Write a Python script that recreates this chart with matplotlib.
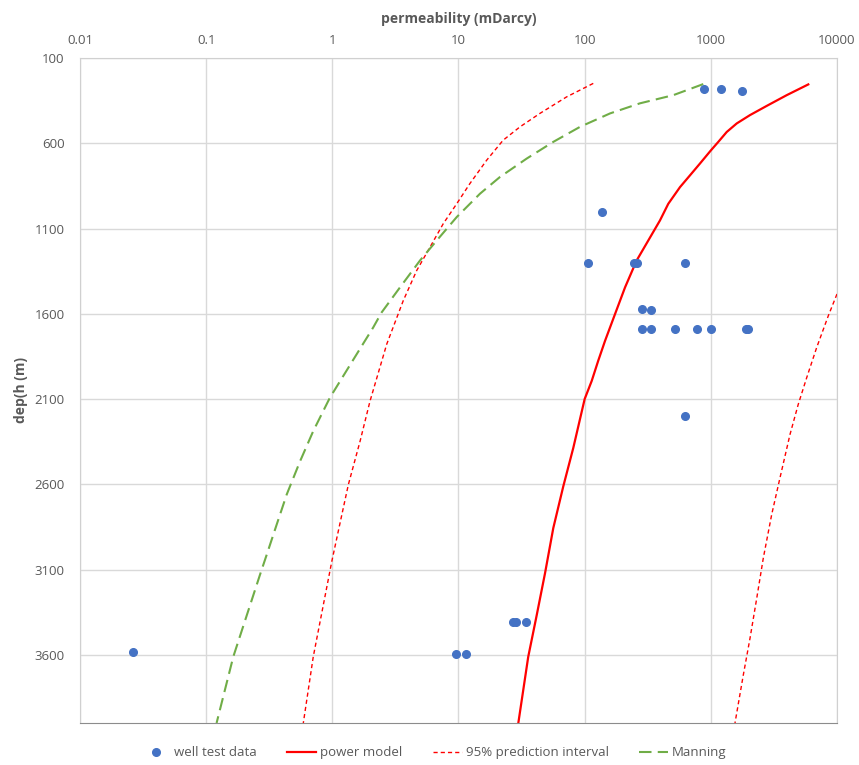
import matplotlib.pyplot as plt

# well test data
well_k = [883, 1203, 1766, 137, 106, 245, 260, 624, 286, 335,
          286, 335, 523, 777, 1003, 1900, 1960, 624,
          27.2, 28.4, 34.3, 0.0262, 9.55, 11.5]
well_depth = [282, 282, 294, 1004, 1304, 1304, 1304, 1304, 1572, 1580,
              1690, 1690, 1690, 1690, 1690, 1690, 1690, 2200,
              3406, 3406, 3406, 3586, 3596, 3596]

# power model
power_k = [5920, 3993, 2772, 2043, 1603, 1336, 1146, 1003, 820, 684, 570,
           460, 395, 258, 209, 174, 145, 128, 113.7, 100, 81.3, 67.7,
           56.4, 48.5, 41.7, 35.7, 29.8]
power_depth = [255, 318, 381, 435, 484, 534, 592, 641, 719, 788, 857,
               955, 1053, 1288, 1445, 1602, 1759, 1876, 1994, 2100,
               2386, 2612, 2857, 3122, 3367, 3612, 4000]

# 95% prediction interval, lower
pi_low_k = [117, 72.0, 44.2, 30.7, 22.6, 16.7, 12.3, 9.68, 7.57, 5.94, 4.66,
            3.65, 2.70, 1.99, 1.66, 1.34, 1.15, 0.99, 0.706, 0.589]
pi_low_depth = [249, 328, 425, 504, 582, 700, 837, 955, 1072, 1210, 1347,
                1523, 1778, 2112, 2347, 2602, 2829, 3053, 3612, 4000]

# 95% prediction interval, upper
pi_high_k = [10000, 8530, 6900, 5750, 4930, 4240, 3530, 3035, 2605, 2310,
             2043, 1808, 1554]
pi_high_depth = [1484, 1612, 1798, 1975, 2131, 2308, 2563, 2778, 3033, 3269,
                 3504, 3719, 4000]

# Manning
man_k = [871, 504, 274, 159, 91.8, 56.4, 34.7, 21.3, 14.8, 9.68, 6.71, 4.95,
         3.44, 2.46, 2.11, 1.56, 0.957, 0.706, 0.555, 0.435, 0.362, 0.302,
         0.267, 0.164, 0.121]
man_depth = [253, 318, 366, 425, 504, 592, 690, 798, 896, 1033, 1171, 1288,
             1445, 1592, 1680, 1837, 2092, 2288, 2465, 2660, 2837, 3013,
             3131, 3612, 4000]

x_ticks = [0.01, 0.1, 1, 10, 100, 1000, 10000]
x_tick_labels = ['0.01', '0.1', '1', '10', '100', '1000', '10000']
y_ticks = [100, 600, 1100, 1600, 2100, 2600, 3100, 3600]

plt.rcParams['font.family'] = ['Open Sans', 'DejaVu Sans']
grey = '#595959'

fig = plt.figure(figsize=(8.59, 7.65), dpi=100)
ax = fig.add_axes([0.0931, 0.0549, 0.8813, 0.8693])

ax.plot(well_k, well_depth, 'o', color='#4472C4', markersize=5.5,
        label='well test data', zorder=5)
ax.plot(power_k, power_depth, color='#FF0000', linewidth=1.6,
        solid_joinstyle='round', label='power model')
ax.plot(pi_low_k, pi_low_depth, color='#FF0000', linewidth=1.0,
        dashes=(3, 2.2), label='95% prediction interval')
ax.plot(pi_high_k, pi_high_depth, color='#FF0000', linewidth=1.0,
        dashes=(3, 2.2))
ax.plot(man_k, man_depth, color='#70AD47', linewidth=1.5,
        dashes=(6, 3), label='Manning')

ax.set_xscale('log')
ax.set_xlim(0.01, 10000)
ax.set_ylim(4000, 100)

ax.xaxis.tick_top()
ax.xaxis.set_label_position('top')
ax.set_xticks(x_ticks)
ax.set_xticklabels(x_tick_labels)
ax.minorticks_off()
ax.set_yticks(y_ticks)
ax.tick_params(axis='x', length=0, pad=8, labelsize=9.5, labelcolor=grey)
ax.tick_params(axis='y', length=0, pad=11, labelsize=9.5, labelcolor=grey)

ax.set_xlabel('permeability (mDarcy)', fontsize=10, fontweight='bold',
              color=grey, labelpad=8)
ax.set_ylabel('dep(h (m)', fontsize=10, fontweight='bold', color=grey,
              labelpad=5)

ax.grid(True, color='#d9d9d9', linewidth=1.0)
ax.set_axisbelow(True)
for side in ['left', 'right', 'top']:
    ax.spines[side].set_color('#d0d0d0')
ax.spines['bottom'].set_color('#8c8c8c')

leg = ax.legend(loc='upper center', bbox_to_anchor=(0.4676, -0.017), ncol=4,
                frameon=False, fontsize=9.5, handlelength=2.2,
                columnspacing=2.3, handletextpad=0.3)
for t in leg.get_texts():
    t.set_color(grey)

fig.savefig('out.png', dpi=100)
